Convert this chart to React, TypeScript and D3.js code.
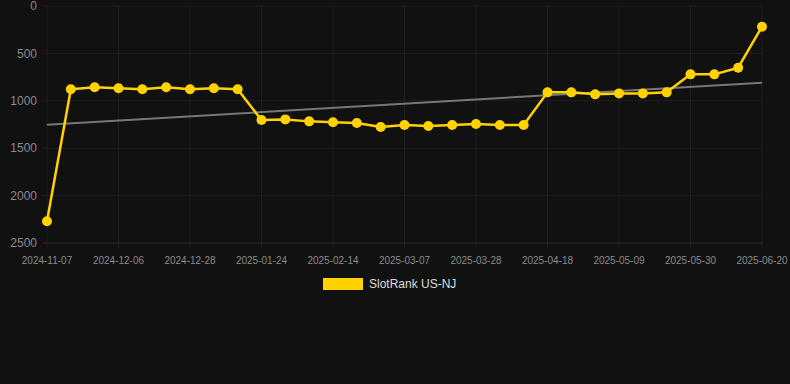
import { useMemo } from 'react';
import * as d3 from 'd3';

// --- Data ---
const dates = [
    '2024-11-07', '2024-11-15', '2024-11-29', '2024-12-06', '2024-12-13', '2024-12-20',
    '2024-12-28', '2025-01-04', '2025-01-17', '2025-01-24', '2025-01-31', '2025-02-07',
    '2025-02-14', '2025-02-21', '2025-02-28', '2025-03-07', '2025-03-14', '2025-03-21',
    '2025-03-28', '2025-04-04', '2025-04-11', '2025-04-18', '2025-04-25', '2025-05-02',
    '2025-05-09', '2025-05-16', '2025-05-23', '2025-05-30', '2025-06-06', '2025-06-13',
    '2025-06-20',
];
const ranks = [
    2271, 879, 858, 868, 879, 858, 879, 868, 879, 1203, 1196, 1217, 1227, 1234, 1277, 1256,
    1266, 1256, 1245, 1256, 1256, 911, 911, 932, 922, 922, 911, 721, 721, 651, 218,
];
const yTicks = [0, 500, 1000, 1500, 2000, 2500];
const seriesName = 'SlotRank US-NJ';

const W = 790;
const H = 384;
const margin = { left: 47, right: 28, top: 6, bottom: 141 };
const GOLD = '#FFD200';
const GRID = '#1f1f1f';

const App = () => {
    const x = useMemo(
        () => d3.scalePoint<string>().domain(dates).range([margin.left, W - margin.right]),
        []
    );
    const y = useMemo(
        () => d3.scaleLinear().domain([0, 2500]).range([margin.top, H - margin.bottom]),
        []
    );

    // least-squares trend over index
    const trend = useMemo(() => {
        const n = ranks.length;
        const mx = (n - 1) / 2;
        const my = d3.mean(ranks) as number;
        let sxy = 0;
        let sxx = 0;
        ranks.forEach((v, i) => {
            sxy += (i - mx) * (v - my);
            sxx += (i - mx) * (i - mx);
        });
        const slope = sxy / sxx;
        return [my - slope * mx, my + slope * (n - 1 - mx)];
    }, []);

    const line = d3.line<number>()
        .x((_, i) => x(dates[i]) as number)
        .y(d => y(d));

    const labelDates = dates.filter((_, i) => i % 3 === 0);
    const [y0, y1] = y.range();

    return (
        <svg width={W} height={H} style={{ position: 'absolute', left: 0, top: 0, background: '#111111' }}
             fontFamily="'Liberation Sans', Arial, sans-serif">
            <rect width={W} height={H} fill="#111111" />
            {/* grid */}
            {yTicks.map(t => (
                <line key={'h' + t} x1={margin.left - 4} x2={W - margin.right} y1={y(t)} y2={y(t)}
                      stroke={t === 2500 ? '#2a2a2a' : GRID} strokeWidth={1} />
            ))}
            {labelDates.map(d => (
                <line key={'v' + d} x1={x(d)} x2={x(d)} y1={y0} y2={y1 + 5}
                      stroke={GRID} strokeWidth={1} />
            ))}
            {/* y labels */}
            {yTicks.map(t => (
                <text key={'yl' + t} x={37} y={y(t)} dy="0.35em" textAnchor="end"
                      fontSize={12} fill="#8a8a8a">{t}</text>
            ))}
            {/* x labels */}
            {labelDates.map(d => (
                <text key={'xl' + d} x={x(d)} y={260} dy="0.35em" textAnchor="middle"
                      fontSize={10} fill="#8a8a8a">{d}</text>
            ))}
            {/* trend */}
            <line x1={x(dates[0])} x2={x(dates[dates.length - 1])} y1={y(trend[0])} y2={y(trend[1])}
                  stroke="#777777" strokeWidth={2} />
            {/* series */}
            <path d={line(ranks) as string} fill="none" stroke={GOLD} strokeWidth={2.5}
                  strokeLinejoin="round" />
            {ranks.map((v, i) => (
                <circle key={'p' + i} cx={x(dates[i])} cy={y(v)} r={5} fill={GOLD} />
            ))}
            {/* legend */}
            <rect x={323} y={278} width={40} height={12} fill={GOLD} />
            <text x={369} y={284} dy="0.35em" fontSize={12} fill="#dddddd">{seriesName}</text>
        </svg>
    );
};

export default App;
